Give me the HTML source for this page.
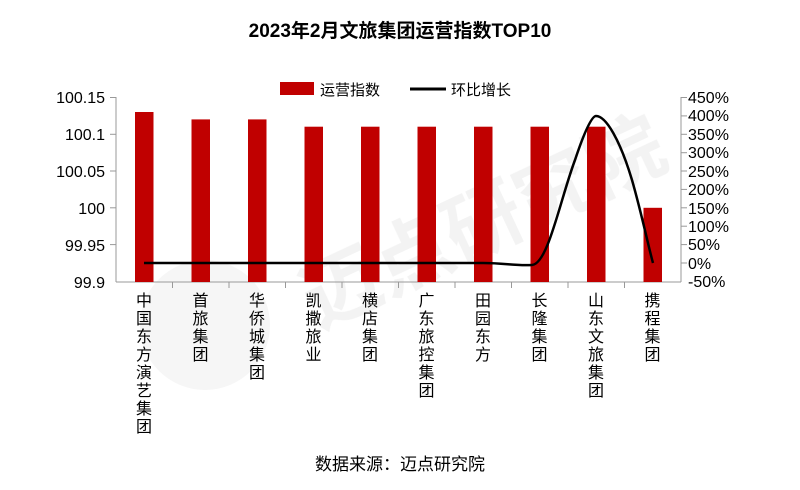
<!DOCTYPE html>
<html><head><meta charset="utf-8"><style>
body{margin:0;background:#fff;}
svg text{font-family:"Liberation Sans","Noto Sans CJK SC",sans-serif;}
</style></head><body>
<svg width="800" height="485" viewBox="0 0 800 485" xmlns="http://www.w3.org/2000/svg">
<rect width="800" height="485" fill="#fff"/>
<g opacity="0.5">
<circle cx="205" cy="325" r="65" fill="#ececec"/>
<text x="480" y="250" text-anchor="middle" font-size="78" font-weight="bold" fill="#e6e6e6" transform="rotate(-25 480 215)">迈点研究院</text>
</g>
<text x="400" y="37" text-anchor="middle" font-size="19" font-weight="bold" fill="#000">2023年2月文旅集团运营指数TOP10</text>
<rect x="280" y="82" width="34" height="13" fill="#c00000"/>
<text x="320" y="95" font-size="15" fill="#000">运营指数</text>
<line x1="410" y1="89" x2="446" y2="89" stroke="#000" stroke-width="3"/>
<text x="451" y="95" font-size="15" fill="#000">环比增长</text>
<g stroke="#999" stroke-width="1">
<line x1="116" y1="97" x2="116" y2="282"/>
<line x1="681" y1="97" x2="681" y2="282"/>
<line x1="116" y1="282" x2="681" y2="282"/>
</g>
<g stroke="#999">
<line x1="110" y1="97.5" x2="116" y2="97.5"/><line x1="110" y1="134.3" x2="116" y2="134.3"/><line x1="110" y1="171" x2="116" y2="171"/><line x1="110" y1="207.8" x2="116" y2="207.8"/><line x1="110" y1="244.6" x2="116" y2="244.6"/>
<line x1="681" y1="97.5" x2="687" y2="97.5"/><line x1="681" y1="115.9" x2="687" y2="115.9"/><line x1="681" y1="134.3" x2="687" y2="134.3"/><line x1="681" y1="152.7" x2="687" y2="152.7"/><line x1="681" y1="171" x2="687" y2="171"/><line x1="681" y1="189.4" x2="687" y2="189.4"/><line x1="681" y1="207.8" x2="687" y2="207.8"/><line x1="681" y1="226.2" x2="687" y2="226.2"/><line x1="681" y1="244.6" x2="687" y2="244.6"/><line x1="681" y1="263" x2="687" y2="263"/>
<line x1="172.5" y1="282" x2="172.5" y2="288"/><line x1="229" y1="282" x2="229" y2="288"/><line x1="285.5" y1="282" x2="285.5" y2="288"/><line x1="342" y1="282" x2="342" y2="288"/><line x1="398.5" y1="282" x2="398.5" y2="288"/><line x1="455" y1="282" x2="455" y2="288"/><line x1="511.5" y1="282" x2="511.5" y2="288"/><line x1="568" y1="282" x2="568" y2="288"/><line x1="624.5" y1="282" x2="624.5" y2="288"/>
</g>
<g font-size="16" fill="#000" text-anchor="end">
<text x="105" y="103">100.15</text><text x="105" y="140">100.1</text><text x="105" y="177">100.05</text><text x="105" y="214">100</text><text x="105" y="251">99.95</text><text x="105" y="288">99.9</text>
</g>
<g font-size="16" fill="#000">
<text x="688" y="103">450%</text><text x="688" y="121">400%</text><text x="688" y="140">350%</text><text x="688" y="158">300%</text><text x="688" y="177">250%</text><text x="688" y="195">200%</text><text x="688" y="214">150%</text><text x="688" y="232">100%</text><text x="688" y="250">50%</text><text x="688" y="269">0%</text><text x="688" y="287">-50%</text>
</g>
<g fill="#c00000">
<rect x="135" y="112" width="18.5" height="170"/>
<rect x="191.5" y="119.4" width="18.5" height="162.6"/>
<rect x="248" y="119.4" width="18.5" height="162.6"/>
<rect x="304.5" y="126.7" width="18.5" height="155.3"/>
<rect x="361" y="126.7" width="18.5" height="155.3"/>
<rect x="417.5" y="126.7" width="18.5" height="155.3"/>
<rect x="474" y="126.7" width="18.5" height="155.3"/>
<rect x="530.5" y="126.7" width="18.5" height="155.3"/>
<rect x="587" y="126.7" width="18.5" height="155.3"/>
<rect x="643.5" y="207.8" width="18.5" height="74.2"/>
</g>
<path d="M144 263 L483 263 C505 263 515 266 532 265 C548 264 560 200 575 160 C585 130 592 116 596 116 C606 116 620 140 632 180 C642 215 648 245 653 263" fill="none" stroke="#000" stroke-width="2.5"/>
<g font-size="16" fill="#000" text-anchor="middle">
<text x="144" y="306"><tspan x="144">中</tspan><tspan x="144" dy="18">国</tspan><tspan x="144" dy="18">东</tspan><tspan x="144" dy="18">方</tspan><tspan x="144" dy="18">演</tspan><tspan x="144" dy="18">艺</tspan><tspan x="144" dy="18">集</tspan><tspan x="144" dy="18">团</tspan></text>
<text y="306"><tspan x="200.5">首</tspan><tspan x="200.5" dy="18">旅</tspan><tspan x="200.5" dy="18">集</tspan><tspan x="200.5" dy="18">团</tspan></text>
<text y="306"><tspan x="257">华</tspan><tspan x="257" dy="18">侨</tspan><tspan x="257" dy="18">城</tspan><tspan x="257" dy="18">集</tspan><tspan x="257" dy="18">团</tspan></text>
<text y="306"><tspan x="313.5">凯</tspan><tspan x="313.5" dy="18">撒</tspan><tspan x="313.5" dy="18">旅</tspan><tspan x="313.5" dy="18">业</tspan></text>
<text y="306"><tspan x="370">横</tspan><tspan x="370" dy="18">店</tspan><tspan x="370" dy="18">集</tspan><tspan x="370" dy="18">团</tspan></text>
<text y="306"><tspan x="426.5">广</tspan><tspan x="426.5" dy="18">东</tspan><tspan x="426.5" dy="18">旅</tspan><tspan x="426.5" dy="18">控</tspan><tspan x="426.5" dy="18">集</tspan><tspan x="426.5" dy="18">团</tspan></text>
<text y="306"><tspan x="483">田</tspan><tspan x="483" dy="18">园</tspan><tspan x="483" dy="18">东</tspan><tspan x="483" dy="18">方</tspan></text>
<text y="306"><tspan x="539.5">长</tspan><tspan x="539.5" dy="18">隆</tspan><tspan x="539.5" dy="18">集</tspan><tspan x="539.5" dy="18">团</tspan></text>
<text y="306"><tspan x="596">山</tspan><tspan x="596" dy="18">东</tspan><tspan x="596" dy="18">文</tspan><tspan x="596" dy="18">旅</tspan><tspan x="596" dy="18">集</tspan><tspan x="596" dy="18">团</tspan></text>
<text y="306"><tspan x="652.5">携</tspan><tspan x="652.5" dy="18">程</tspan><tspan x="652.5" dy="18">集</tspan><tspan x="652.5" dy="18">团</tspan></text>
</g>
<text x="400" y="470" text-anchor="middle" font-size="17" fill="#000">数据来源：迈点研究院</text>
</svg>
</body></html>
